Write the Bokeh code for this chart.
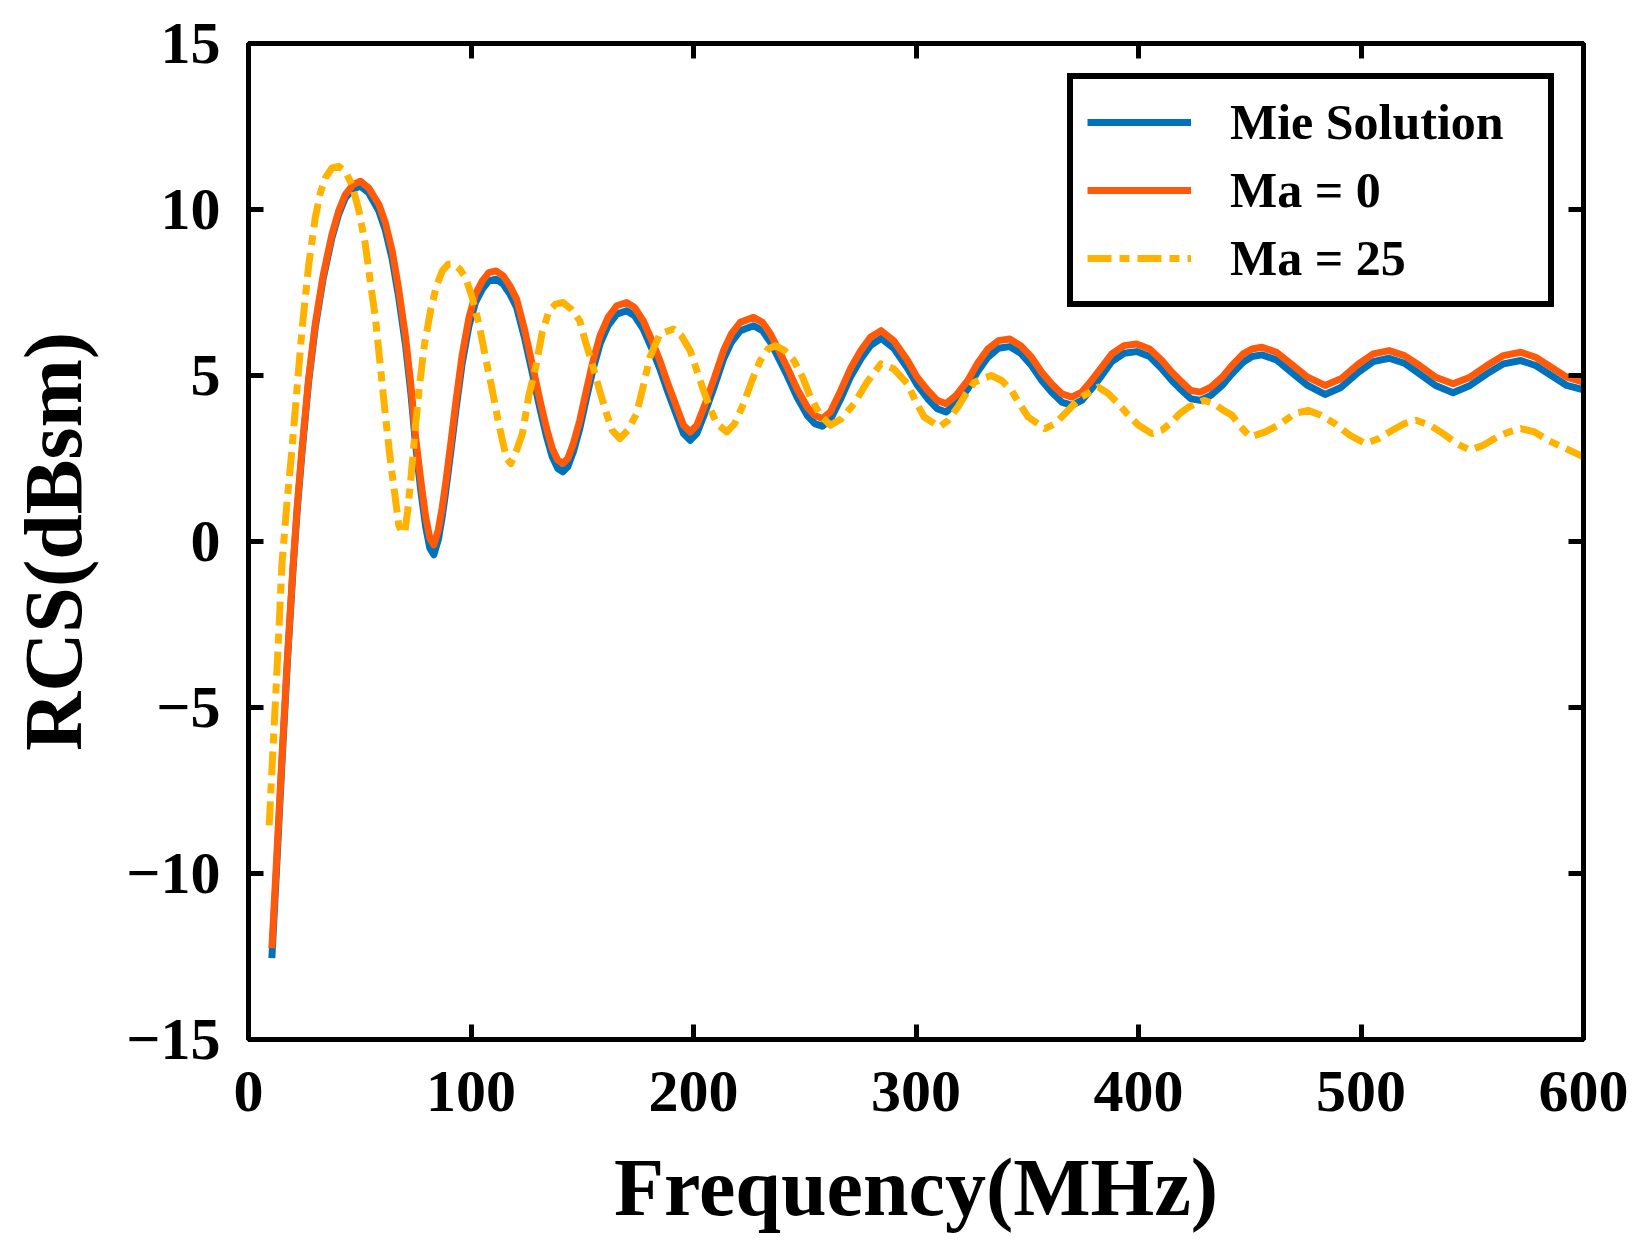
from bokeh.plotting import figure
from bokeh.models import (Range1d, LinearAxis, FixedTicker, Legend, LegendItem,
                          CustomJSTickFormatter)
from bokeh.embed import file_html
from bokeh.resources import INLINE

# ---------------- data ----------------
freq_a = [10.5, 12.5, 15, 17.5, 20, 22, 24, 27, 30, 33.5,
          37.5, 40.5, 43.5, 47, 50.3, 54, 58.6, 61.5, 64.6, 67.5,
          70.6, 73, 75.1, 77.5, 79.6, 81.5, 83.3, 85.3, 87, 88.6,
          91, 93.1, 96, 99.1, 102, 105.1, 108, 111.2, 114.5, 117.5,
          120.5, 124, 127.8, 131, 133.8, 136.5, 139, 141.3, 143.5, 146,
          148.9, 152, 154.9, 158, 161.6, 165.5, 169.9, 173.5, 177.4, 181,
          184.9, 188.5, 192.4, 195.5, 198.5,
          201.5, 205, 209.5, 213.5, 217, 221, 227, 231, 234.6, 238,
          242.1, 246.5, 251.1, 254.5, 257.9, 261.5, 266.2, 270.5, 275.2, 279.5,
          284.3, 290, 296.2, 300.5, 305.3, 309.5, 313.5, 318, 323.3, 327.5,
          332.3, 337, 342.1, 347, 351.9, 356.5, 360.9, 365.5, 370, 374.5,
          378.9, 383.5, 388, 393.5, 399.2, 405, 410.5, 415, 419.5, 423.5,
          427.8, 432.5, 437.6, 442, 447, 451, 455.5, 462, 468.6, 476,
          483.8, 491, 498.9, 505.5, 512.6, 519.5, 526.3, 533.5, 541.4, 549,
          556.6, 564, 571.8, 578.5, 585.5, 592.5, 600]

ma0 = [-12.25, -9.75, -6.55, -3.5, -0.75, 1.15, 2.75, 4.9, 6.55, 8.0,
       9.25, 9.95, 10.45, 10.75, 10.85, 10.65, 10.15, 9.6, 8.75, 7.6,
       6.15, 4.7, 3.15, 1.8, 0.75, 0.1, -0.1, 0.35, 1.0, 1.75,
       3.0, 4.15, 5.6, 6.75, 7.45, 7.85, 8.1, 8.15, 8.0, 7.7,
       7.3, 6.4, 5.25, 4.25, 3.45, 2.8, 2.45, 2.35, 2.5, 2.95,
       3.65, 4.6, 5.45, 6.2, 6.75, 7.1, 7.2, 7.05, 6.65, 6.1,
       5.45, 4.75, 4.05, 3.5, 3.3,
       3.5, 4.1, 4.95, 5.75, 6.25, 6.6, 6.75, 6.6, 6.25, 5.8,
       5.25, 4.6, 4.05, 3.8, 3.7, 3.9, 4.55, 5.2, 5.75, 6.15,
       6.35, 6.05, 5.45, 4.95, 4.55, 4.25, 4.15, 4.4, 4.85, 5.35,
       5.8, 6.05, 6.1, 5.9, 5.55, 5.1, 4.75, 4.45, 4.35, 4.5,
       4.85, 5.25, 5.65, 5.9, 5.95, 5.8, 5.45, 5.1, 4.8, 4.55,
       4.5, 4.65, 4.95, 5.3, 5.65, 5.8, 5.85, 5.7, 5.35, 4.95,
       4.7, 4.9, 5.35, 5.65, 5.75, 5.6, 5.3, 4.95, 4.75, 4.95,
       5.3, 5.6, 5.7, 5.55, 5.25, 4.95, 4.8]

mie = [-12.55, -10.0, -6.7, -3.6, -0.85, 1.05, 2.65, 4.8, 6.45, 7.9,
       9.15, 9.85, 10.35, 10.62, 10.7, 10.5, 9.95, 9.38, 8.5, 7.35,
       5.9, 4.45, 2.9, 1.5, 0.45, -0.2, -0.4, 0.05, 0.72, 1.48,
       2.75, 3.9, 5.35, 6.5, 7.2, 7.6, 7.85, 7.9, 7.75, 7.45,
       7.05, 6.15, 5.0, 4.0, 3.2, 2.55, 2.2, 2.1, 2.25, 2.7,
       3.4, 4.35, 5.2, 5.95, 6.5, 6.85, 6.95, 6.8, 6.4, 5.85,
       5.2, 4.5, 3.8, 3.25, 3.05,
       3.25, 3.85, 4.7, 5.5, 6.0, 6.35, 6.5, 6.35, 6.0, 5.55,
       5.0, 4.35, 3.8, 3.55, 3.47, 3.67, 4.3, 4.95, 5.5, 5.9,
       6.12, 5.82, 5.22, 4.72, 4.3, 4.0, 3.9, 4.15, 4.6, 5.1,
       5.55, 5.82, 5.87, 5.67, 5.3, 4.85, 4.5, 4.2, 4.1, 4.25,
       4.6, 5.0, 5.42, 5.67, 5.72, 5.57, 5.2, 4.85, 4.55, 4.3,
       4.25, 4.4, 4.7, 5.05, 5.4, 5.57, 5.62, 5.47, 5.1, 4.7,
       4.43, 4.64, 5.1, 5.42, 5.52, 5.37, 5.05, 4.7, 4.48, 4.7,
       5.05, 5.35, 5.45, 5.3, 5.0, 4.7, 4.57]

freq_b = [9.3, 10.8, 12.3, 13.7, 15, 17.2, 19.5, 21.8, 24, 27,
          30, 32.3, 34.5, 37.5, 40.5, 43.5, 46.5, 49.5, 52.5, 55,
          57, 59.3, 61.6, 64, 66.1, 67.5, 69.1, 70.3, 71.5, 72.8,
          74.7, 76.6, 79, 81.8, 84.5, 87.1, 89.7, 92.3, 95, 97.6,
          100.5, 103.6, 106.5, 109.6, 112, 114.1, 116, 117.9, 120.5, 123.1,
          126, 129.1, 132, 135.1, 138, 141.3, 145, 148.9, 151.5, 154.9,
          158, 160.9, 163.5, 166.9, 170.5, 174.4, 177.5, 180.4, 184.9, 191,
          194.5, 198.5, 201.5, 204.5, 207.5, 210.5, 215, 218.5, 222.5, 226,
          230, 233.5, 236.8, 241, 245.1, 249, 252.6, 257, 261.5, 266.5,
          272.2, 278, 284.2, 290, 296.2, 300, 303.7, 310.5, 314.5, 318.8,
          322.5, 326.3, 333.8, 338.5, 342.9, 346.5, 350.4, 357.9, 362.5, 366.9,
          370.5, 374.4, 382, 386.5, 391, 395.5, 400, 406, 410.5, 415,
          418.5, 422.6, 429.4, 434, 438.2, 442.1, 446, 450.3, 457, 464,
          470, 476.2, 482, 488.3, 495, 502, 508, 514.1, 519.5, 524.8,
          531, 536.9, 543, 549, 555, 561.2, 566.5, 571.8, 578, 584,
          592, 600]

ma25 = [-8.55, -6.5, -4.55, -2.6, -0.7, 1.1, 2.75, 4.6, 6.35, 8.3,
        9.75, 10.5, 10.95, 11.25, 11.3, 11.15, 10.75, 10.0, 8.95, 7.7,
        6.75, 5.25, 3.75, 2.3, 1.25, 0.5, 0.25, 0.3, 0.9, 1.75,
        3.2, 4.55, 5.9, 6.95, 7.7, 8.15, 8.35, 8.35, 8.2, 7.95,
        7.35, 6.55, 5.55, 4.55, 3.7, 3.05, 2.5, 2.35, 2.75, 3.25,
        4.4, 5.25, 6.3, 6.95, 7.15, 7.2, 7.0, 6.65, 6.0, 5.25,
        4.5, 3.85, 3.35, 3.1, 3.35, 3.85, 4.7, 5.55, 6.25, 6.4,
        6.2, 5.75, 5.15, 4.55, 4.0, 3.55, 3.3, 3.55, 4.15, 4.8,
        5.45, 5.8, 5.9, 5.75, 5.45, 4.95, 4.35, 3.8, 3.5, 3.7,
        4.15, 4.8, 5.35, 5.2, 4.75, 4.2, 3.75, 3.45, 3.65, 4.05,
        4.45, 4.8, 5.0, 4.85, 4.55, 4.15, 3.75, 3.4, 3.55, 3.85,
        4.1, 4.35, 4.65, 4.45, 4.15, 3.8, 3.5, 3.25, 3.35, 3.6,
        3.85, 4.05, 4.25, 4.15, 3.95, 3.8, 3.45, 3.15, 3.3, 3.55,
        3.85, 3.95, 3.8, 3.55, 3.2, 2.95, 3.1, 3.35, 3.55, 3.65,
        3.5, 3.25, 2.95, 2.75, 2.9, 3.15, 3.3, 3.4, 3.3, 3.05,
        2.8, 2.55]

x_ticks = [0, 100, 200, 300, 400, 500, 600]
y_ticks = [-15, -10, -5, 0, 5, 10, 15]
y_tick_labels = {-15: "\u221215", -10: "\u221210", -5: "\u22125", 0: "0", 5: "5", 10: "10", 15: "15"}
series_labels = ["Mie Solution", "Ma = 0", "Ma = 25"]
series_colors = ["#0072BD", "#FF5A0A", "#FFB300"]

FONT = "Liberation Serif"

p = figure(width=1630, height=1240, x_range=Range1d(0, 600), y_range=Range1d(-15, 15),
           output_backend="svg", toolbar_location=None,
           min_border_left=248, min_border_right=47, min_border_top=43, min_border_bottom=201)
p.xgrid.visible = False
p.ygrid.visible = False
p.outline_line_color = "black"
p.outline_line_width = 5
p.background_fill_color = "white"
p.border_fill_color = "white"

r_mie = p.line(freq_a, mie, line_color=series_colors[0], line_width=7, line_join="round")
r_ma0 = p.line(freq_a, ma0, line_color=series_colors[1], line_width=7, line_join="round")
r_ma25 = p.line(freq_b, ma25, line_color=series_colors[2], line_width=7,
                line_dash="24 8 10 8", line_join="round")


def style_axis(ax, ticks):
    ax.ticker = FixedTicker(ticks=ticks)
    ax.axis_line_color = "black"
    ax.axis_line_width = 5
    ax.major_tick_line_color = "black"
    ax.major_tick_line_width = 5
    ax.major_tick_in = 15
    ax.major_tick_out = 0
    ax.minor_tick_line_color = None
    ax.major_label_text_font = FONT
    ax.major_label_text_font_style = "bold"
    ax.major_label_text_font_size = "60px"
    ax.major_label_text_color = "black"
    ax.axis_label_text_font = FONT
    ax.axis_label_text_font_style = "bold"
    ax.axis_label_text_font_size = "82px"
    ax.axis_label_text_color = "black"


xa = p.xaxis[0]
ya = p.yaxis[0]
style_axis(xa, x_ticks)
style_axis(ya, y_ticks)
xa.axis_label = "Frequency(MHz)"
ya.axis_label = "RCS(dBsm)"
xa.major_label_standoff = 32
ya.major_label_standoff = 28
xa.axis_label_standoff = 28
ya.axis_label_standoff = 24
ya.major_label_overrides = y_tick_labels

for loc, ticks in (("above", x_ticks), ("right", y_ticks)):
    ax = LinearAxis()
    style_axis(ax, ticks)
    ax.formatter = CustomJSTickFormatter(code="return ''")
    ax.major_label_standoff = 0
    ax.major_label_text_font_size = "1px"
    p.add_layout(ax, loc)

legend = Legend(items=[LegendItem(label=series_labels[0], renderers=[r_mie]),
                       LegendItem(label=series_labels[1], renderers=[r_ma0]),
                       LegendItem(label=series_labels[2], renderers=[r_ma25])],
                location=(819, 732), margin=0, padding=14, spacing=10,
                glyph_width=104, glyph_height=50, label_standoff=39,
                label_width=304, label_height=50,
                label_text_font=FONT, label_text_font_style="bold",
                label_text_font_size="50px", label_text_color="black",
                border_line_color="black", border_line_width=6, border_line_alpha=1.0,
                background_fill_color="white", background_fill_alpha=1.0)
p.add_layout(legend)

open("out.html", "w").write(file_html(p, INLINE))
